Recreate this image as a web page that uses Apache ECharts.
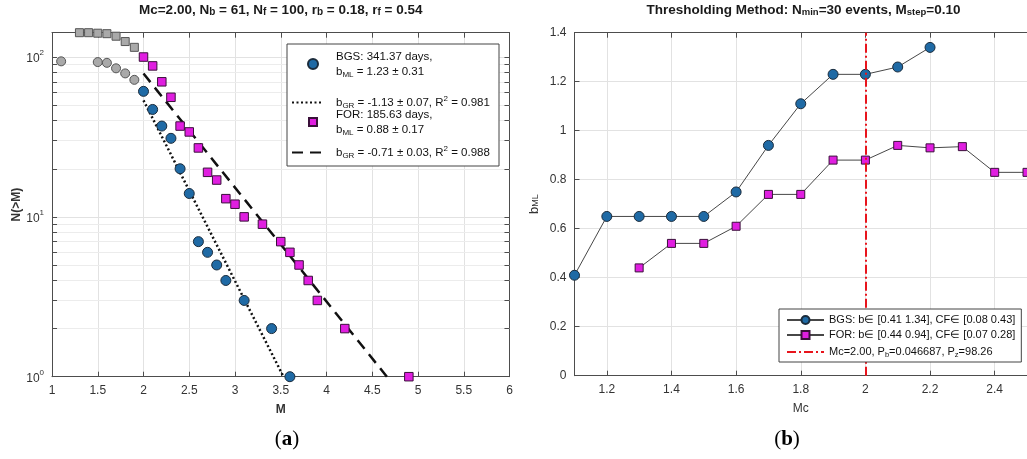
<!DOCTYPE html>
<html>
<head>
<meta charset="utf-8">
<script src="https://cdn.jsdelivr.net/npm/echarts@6/dist/echarts.min.js"></script>
<style>
  html, body { margin: 0; padding: 0; background: #fff; }
  #main { width: 1027px; height: 459px; }
</style>
</head>
<body>
<div id="main"></div>
<script>
// (a) cumulative frequency-magnitude, BGS and FOR
var bgsLowM = [1.1, 1.5, 1.6, 1.7, 1.8, 1.9];
var bgsLowN = [94, 93, 92, 85, 79, 72];
var bgsM = [2.0, 2.1, 2.2, 2.3, 2.4, 2.5, 2.6, 2.7, 2.8, 2.9, 3.1, 3.4, 3.6];
var bgsN = [61, 47, 37, 31, 20, 14, 7, 6, 5, 4, 3, 2, 1];
var forLowM = [1.3, 1.4, 1.5, 1.6, 1.7, 1.8, 1.9];
var forLowN = [142, 142, 141, 140, 135, 125, 115];
var forM = [2.0, 2.1, 2.2, 2.3, 2.4, 2.5, 2.6, 2.7, 2.8, 2.9, 3.0, 3.1, 3.3, 3.5, 3.6, 3.7, 3.8, 3.9, 4.2, 4.9];
var forN = [100, 88, 70, 56, 37, 34, 27, 19, 17, 13, 12, 10, 9, 7, 6, 5, 4, 3, 2, 1];
// GR fit lines (end points)
var bgsFitM = [2.0, 3.53];
var bgsFitN = [53.6, 1];
var forFitM = [2.0, 4.66];
var forFitN = [78.8, 1];
var majorN = [1, 10, 100];
var minorN = [2, 3, 4, 5, 6, 7, 8, 9, 20, 30, 40, 50, 60, 70, 80, 90];

// (b) thresholding method
var mcSteps = [1.1, 1.2, 1.3, 1.4, 1.5, 1.6, 1.7, 1.8, 1.9, 2.0, 2.1, 2.2, 2.3, 2.4, 2.5];
var bgsB = [0.41, 0.65, 0.65, 0.65, 0.65, 0.75, 0.94, 1.11, 1.23, 1.23, 1.26, 1.34, null, null, null];
var forB = [null, null, 0.44, 0.54, 0.54, 0.61, 0.74, 0.74, 0.88, 0.88, 0.94, 0.93, 0.935, 0.83, 0.83];
var mcBest = 2.0;
var mcTicks = [1.2, 1.4, 1.6, 1.8, 2.0, 2.2, 2.4];

var FONT = '"Liberation Sans", Arial, sans-serif';
var SERIF = '"Liberation Serif", "DejaVu Serif", serif';
var AXIS = '#4d4d4d';
var GRIDC = '#e2e2e2';
var BLUE = '#1f6aa5';
var MAG = '#e01ee0';

function pairs(xs, ys) {
  var out = [];
  for (var i = 0; i < xs.length; i++) {
    if (ys[i] != null) out.push([xs[i], ys[i]]);
  }
  return out;
}

function scripts(size, weight, gap) {
  return {
    sub: { fontSize: size, lineHeight: size, padding: [8, 0, 0, 0], verticalAlign: 'bottom', fontWeight: weight, fontFamily: FONT },
    sup: { fontSize: size, lineHeight: size, padding: [0, 0, 8, 0], verticalAlign: 'top', fontWeight: weight, fontFamily: FONT },
    g: { width: gap || 0 }
  };
}

var leftNames = {
  bgs: '{g|}BGS: 341.37 days,\n{g|}b{sub|ML} = 1.23 ± 0.31',
  bgsFit: '{g|}b{sub|GR} = -1.13 ± 0.07, R{sup|2} = 0.981',
  for: '{g|}FOR: 185.63 days,\n{g|}b{sub|ML} = 0.88 ± 0.17',
  forFit: '{g|}b{sub|GR} = -0.71 ± 0.03, R{sup|2} = 0.988'
};
var rightNames = {
  bgsB: 'BGS: b∈ [0.41 1.34], CF∈ [0.08 0.43]',
  forB: 'FOR: b∈ [0.44 0.94], CF∈ [0.07 0.28]',
  mc: 'Mc=2.00, P{sub|b}=0.046687, P{sub|z}=98.26'
};

function leftLegend(item, left, top, w, h, gap) {
  return {
    data: [item], left: left, top: top, orient: 'vertical', padding: 0, z: 6,
    itemWidth: w, itemHeight: h, selectedMode: false,
    formatter: function (n) { return leftNames[n]; },
    textStyle: { fontSize: 11.5, fontFamily: FONT, color: '#111', lineHeight: 15, rich: scripts(8, 'normal', gap) }
  };
}

var axisLineStyle = { show: true, lineStyle: { color: AXIS, width: 1 } };
var labelStyle = { color: '#333', fontSize: 12, fontFamily: FONT };
var tickStyle = { color: AXIS };

var chart = echarts.init(document.getElementById('main'));

var option = {
  backgroundColor: '#fff',
  animation: false,
  grid: [
    { left: 52, right: 517.5, top: 32.7, bottom: 82.3 },
    { left: 574.5, right: -5, top: 32.7, bottom: 83.3 }
  ],
  xAxis: [
    {
      gridIndex: 0, type: 'value', min: 1, max: 6, interval: 0.5,
      name: 'M', nameLocation: 'middle', nameGap: 27,
      nameTextStyle: { fontWeight: 'bold', fontSize: 12, fontFamily: FONT, color: '#333' },
      axisLine: axisLineStyle, axisTick: { inside: true, length: 5, lineStyle: tickStyle },
      axisLabel: labelStyle, splitLine: { show: true, lineStyle: { color: GRIDC } }
    },
    {
      gridIndex: 0, type: 'value', position: 'top', min: 1, max: 6, interval: 0.5,
      axisLine: axisLineStyle, axisTick: { inside: true, length: 5, lineStyle: tickStyle },
      axisLabel: { show: false }, splitLine: { show: false }
    },
    {
      gridIndex: 1, type: 'value', min: 1.1, max: 2.5,
      name: 'Mc', nameLocation: 'middle', nameGap: 27,
      nameTextStyle: { fontSize: 12, fontFamily: FONT, color: '#333' },
      axisLine: axisLineStyle,
      axisTick: { inside: true, length: 5, customValues: mcTicks, lineStyle: tickStyle },
      axisLabel: Object.assign({ customValues: mcTicks, formatter: function (v) { return String(+v.toFixed(1)); } }, labelStyle),
      splitLine: { show: true, lineStyle: { color: GRIDC } }
    },
    {
      gridIndex: 1, type: 'value', position: 'top', min: 1.1, max: 2.5,
      axisLine: axisLineStyle,
      axisTick: { inside: true, length: 5, customValues: mcTicks, lineStyle: tickStyle },
      axisLabel: { show: false, customValues: mcTicks }, splitLine: { show: false }
    }
  ],
  yAxis: [
    {
      gridIndex: 0, type: 'log', logBase: 10, min: 1, max: 142,
      name: 'N(>M)', nameLocation: 'middle', nameGap: 27, nameRotate: 90,
      nameTextStyle: { fontWeight: 'bold', fontSize: 12, fontFamily: FONT, color: '#333' },
      axisLine: axisLineStyle, axisTick: { show: false },
      axisLabel: {
        color: '#333', fontFamily: FONT,
        formatter: function (v) {
          var e = Math.round(Math.log10(v));
          if (Math.abs(Math.pow(10, e) - v) > 1e-6) return '';
          return '{b|10}{sup|' + e + '}';
        },
        rich: {
          b: { fontSize: 12, lineHeight: 16, verticalAlign: 'bottom', color: '#333', fontFamily: FONT },
          sup: { fontSize: 8, lineHeight: 8, verticalAlign: 'top', color: '#333', fontFamily: FONT }
        }
      },
      splitLine: { show: true, lineStyle: { color: GRIDC } }
    },
    {
      gridIndex: 0, type: 'log', logBase: 10, min: 1, max: 142, position: 'right',
      axisLine: axisLineStyle, axisTick: { show: false },
      axisLabel: { show: false }, splitLine: { show: false }
    },
    {
      gridIndex: 1, type: 'value', min: 0, max: 1.4, interval: 0.2,
      name: 'b{sub|ML}', nameLocation: 'middle', nameGap: 34, nameRotate: 90,
      nameTextStyle: { fontSize: 13, fontFamily: FONT, color: '#333', rich: scripts(9, 'normal') },
      axisLine: axisLineStyle, axisTick: { inside: true, length: 5, lineStyle: tickStyle },
      axisLabel: Object.assign({ formatter: function (v) { return String(+v.toFixed(1)); } }, labelStyle),
      splitLine: { show: true, lineStyle: { color: GRIDC } }
    }
  ],
  legend: [
    leftLegend({ name: 'bgs', icon: 'circle' }, 307, 49, 10, 10, 13),
    leftLegend({ name: 'bgsFit', itemStyle: { opacity: 0 } }, 291, 94, 31, 10, 8),
    leftLegend({ name: 'for', icon: 'rect' }, 308, 107, 8, 8, 14),
    leftLegend({ name: 'forFit', itemStyle: { opacity: 0 } }, 291, 144, 31, 10, 8),
    {
      data: ['bgsB', 'forB', { name: 'mc', itemStyle: { opacity: 0 } }],
      left: 779, top: 309, orient: 'vertical', z: 10,
      itemWidth: 37, itemHeight: 10, itemGap: 1, selectedMode: false,
      padding: [4, 6, 3, 7], backgroundColor: '#fff', borderColor: '#444', borderWidth: 1,
      formatter: function (n) { return rightNames[n]; },
      textStyle: { fontSize: 11, fontFamily: FONT, color: '#111', lineHeight: 14, rich: scripts(7.5, 'normal') }
    }
  ],
  graphic: [
    {
      type: 'rect', z: 3, shape: { x: 287, y: 44, width: 212, height: 122 },
      style: { fill: '#fff', stroke: '#444', lineWidth: 1 }
    },
    {
      type: 'text', x: 280.7, y: 3,
      style: {
        text: 'Mc=2.00, N{sub|b} = 61, N{sub|f} = 100, r{sub|b} = 0.18, r{sub|f} = 0.54',
        fontSize: 13.5, fontWeight: 'bold', fontFamily: FONT, fill: '#1a1a1a',
        align: 'center', verticalAlign: 'top', rich: scripts(10, 'bold')
      }
    },
    {
      type: 'text', x: 803.5, y: 3,
      style: {
        text: 'Thresholding Method: N{sub|min}=30 events, M{sub|step}=0.10',
        fontSize: 13.5, fontWeight: 'bold', fontFamily: FONT, fill: '#1a1a1a',
        align: 'center', verticalAlign: 'top', rich: scripts(9.5, 'bold')
      }
    },
    {
      type: 'text', x: 287, y: 429,
      style: {
        text: '({b|a})', fontSize: 21, fontFamily: SERIF, fill: '#000',
        align: 'center', verticalAlign: 'top',
        rich: { b: { fontSize: 21, fontWeight: 'bold', fontFamily: SERIF } }
      }
    },
    {
      type: 'text', x: 787, y: 429,
      style: {
        text: '({b|b})', fontSize: 21, fontFamily: SERIF, fill: '#000',
        align: 'center', verticalAlign: 'top',
        rich: { b: { fontSize: 21, fontWeight: 'bold', fontFamily: SERIF } }
      }
    }
  ],
  series: [
    {
      name: 'minorGrid', type: 'line', xAxisIndex: 0, yAxisIndex: 0, data: [], z: 1, silent: true,
      markLine: {
        silent: true, symbol: 'none', label: { show: false }, z: 1,
        lineStyle: { color: '#ececec', width: 1, type: 'solid' },
        data: minorN.map(function (v) { return { yAxis: v }; })
      }
    },
    {
      // minor + major ticks on the left and right edges of the log axis
      name: 'logTicks', type: 'line', xAxisIndex: 0, yAxisIndex: 0, data: [], z: 2, silent: true,
      markLine: {
        silent: true, symbol: 'none', label: { show: false }, z: 2,
        lineStyle: { color: AXIS, width: 1, type: 'solid' },
        data: [].concat(
          majorN.concat(minorN).map(function (v) { return [{ coord: [1, v] }, { coord: [1.055, v] }]; }),
          majorN.concat(minorN).map(function (v) { return [{ coord: [5.945, v] }, { coord: [6, v] }]; })
        )
      }
    },
    {
      name: 'bgsLow', type: 'scatter', xAxisIndex: 0, yAxisIndex: 0, symbol: 'circle', symbolSize: 9, z: 4,
      itemStyle: { color: '#a9a9a9', borderColor: '#555', borderWidth: 1, opacity: 1 },
      data: pairs(bgsLowM, bgsLowN)
    },
    {
      name: 'forLow', type: 'scatter', xAxisIndex: 0, yAxisIndex: 0, symbol: 'rect', symbolSize: 8, z: 4,
      itemStyle: { color: '#a9a9a9', borderColor: '#555', borderWidth: 1, opacity: 1 },
      data: pairs(forLowM, forLowN)
    },
    {
      name: 'bgsFit', type: 'line', xAxisIndex: 0, yAxisIndex: 0, symbol: 'none', z: 3,
      lineStyle: { color: '#111', width: 2.5, type: [2, 2.5] },
      data: pairs(bgsFitM, bgsFitN)
    },
    {
      name: 'forFit', type: 'line', xAxisIndex: 0, yAxisIndex: 0, symbol: 'none', z: 3,
      lineStyle: { color: '#111', width: 2.5, type: [11, 7] },
      data: pairs(forFitM, forFitN)
    },
    {
      name: 'bgs', type: 'scatter', xAxisIndex: 0, yAxisIndex: 0, symbol: 'circle', symbolSize: 10, z: 4,
      itemStyle: { color: BLUE, borderColor: '#1b2c3c', borderWidth: 1, opacity: 1 },
      data: pairs(bgsM, bgsN)
    },
    {
      name: 'for', type: 'scatter', xAxisIndex: 0, yAxisIndex: 0, symbol: 'rect', symbolSize: 8.5, z: 4,
      itemStyle: { color: MAG, borderColor: '#3a103a', borderWidth: 1, opacity: 1 },
      data: pairs(forM, forN)
    },
    {
      name: 'bgsB', type: 'line', xAxisIndex: 2, yAxisIndex: 2, symbol: 'circle', symbolSize: 10,
      lineStyle: { color: '#474747', width: 1 },
      itemStyle: { color: BLUE, borderColor: '#1b2c3c', borderWidth: 1 },
      data: pairs(mcSteps, bgsB)
    },
    {
      name: 'forB', type: 'line', xAxisIndex: 2, yAxisIndex: 2, symbol: 'rect', symbolSize: 8,
      lineStyle: { color: '#474747', width: 1 },
      itemStyle: { color: MAG, borderColor: '#3a103a', borderWidth: 1 },
      data: pairs(mcSteps, forB)
    },
    {
      name: 'mc', type: 'line', xAxisIndex: 2, yAxisIndex: 2, symbol: 'none', z: 5, data: [],
      lineStyle: { color: '#e8141c', width: 2, type: [9, 3, 2, 3] },
      markLine: {
        silent: true, symbol: 'none', label: { show: false }, z: 5,
        lineStyle: { color: '#e8141c', width: 2, type: [9, 3, 2, 3] },
        data: [{ xAxis: mcBest }]
      }
    }
  ]
};

chart.setOption(option);
</script>
</body>
</html>
